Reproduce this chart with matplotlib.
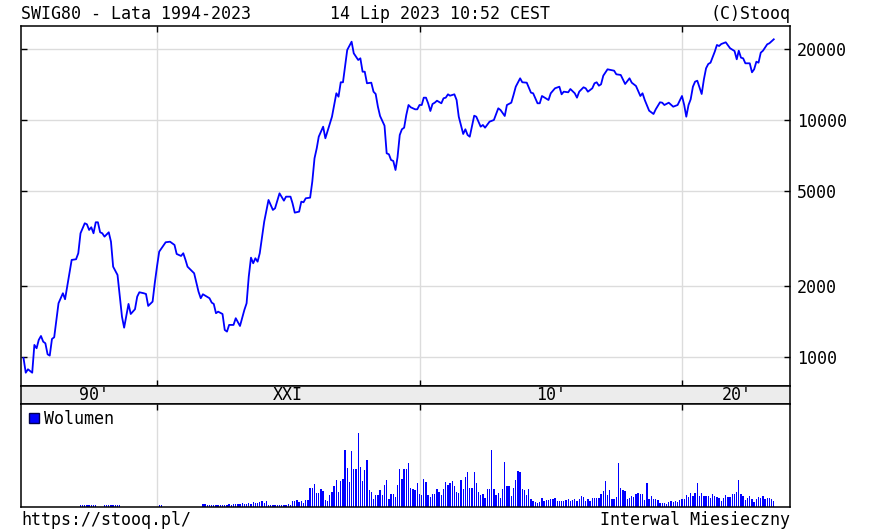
import numpy as np
import pandas as pd
import matplotlib
matplotlib.use('Agg')
import matplotlib.pyplot as plt
from matplotlib.patches import Rectangle
from matplotlib.ticker import NullLocator


plt.rcParams['font.family'] = 'DejaVu Sans Mono'
plt.rcParams['font.size'] = 12

W = 889
H = 532
BLUE = '#0000ff'
GRID = '#dcdcdc'

# sWIG80, monthly close
price_months = [
    '1994-12', '1995-01', '1995-02', '1995-04', '1995-05', '1995-06', '1995-07', '1995-08',
    '1995-09', '1995-10', '1995-11', '1995-12', '1996-01', '1996-02', '1996-04', '1996-06',
    '1996-07', '1996-10', '1996-12', '1997-01', '1997-02', '1997-04', '1997-05', '1997-06',
    '1997-07', '1997-08', '1997-09', '1997-10', '1997-11', '1997-12', '1998-01', '1998-03',
    '1998-04', '1998-05', '1998-07', '1998-09', '1998-10', '1998-12', '1999-01', '1999-03',
    '1999-04', '1999-05', '1999-07', '1999-08', '1999-09', '1999-11', '1999-12', '2000-01',
    '2000-02', '2000-05', '2000-07', '2000-09', '2000-10', '2000-12', '2001-01', '2001-02',
    '2001-03', '2001-06', '2001-08', '2001-09', '2001-10', '2002-01', '2002-02', '2002-03',
    '2002-04', '2002-05', '2002-07', '2002-08', '2002-09', '2002-10', '2002-12', '2003-01',
    '2003-03', '2003-05', '2003-06', '2003-07', '2003-08', '2003-09', '2003-10', '2003-11',
    '2003-12', '2004-02', '2004-04', '2004-06', '2004-07', '2004-09', '2004-11', '2004-12',
    '2005-02', '2005-03', '2005-04', '2005-06', '2005-07', '2005-08', '2005-09', '2005-11',
    '2005-12', '2006-01', '2006-02', '2006-03', '2006-05', '2006-06', '2006-09', '2006-11',
    '2006-12', '2007-01', '2007-02', '2007-04', '2007-06', '2007-07', '2007-09', '2007-10',
    '2007-11', '2007-12', '2008-01', '2008-03', '2008-04', '2008-05', '2008-06', '2008-07',
    '2008-09', '2008-10', '2008-11', '2008-12', '2009-01', '2009-02', '2009-03', '2009-04',
    '2009-05', '2009-06', '2009-07', '2009-08', '2009-09', '2009-11', '2009-12', '2010-01',
    '2010-02', '2010-03', '2010-04', '2010-05', '2010-06', '2010-07', '2010-08', '2010-09',
    '2010-11', '2010-12', '2011-01', '2011-02', '2011-03', '2011-05', '2011-06', '2011-07',
    '2011-09', '2011-10', '2011-11', '2011-12', '2012-02', '2012-03', '2012-05', '2012-06',
    '2012-07', '2012-09', '2012-11', '2013-01', '2013-02', '2013-04', '2013-05', '2013-07',
    '2013-08', '2013-09', '2013-11', '2013-12', '2014-02', '2014-04', '2014-05', '2014-07',
    '2014-08', '2014-09', '2014-12', '2015-01', '2015-03', '2015-05', '2015-06', '2015-07',
    '2015-09', '2015-10', '2015-12', '2016-01', '2016-02', '2016-04', '2016-05', '2016-06',
    '2016-08', '2016-09', '2016-10', '2016-11', '2016-12', '2017-01', '2017-03', '2017-06',
    '2017-07', '2017-09', '2017-11', '2018-01', '2018-02', '2018-04', '2018-06', '2018-07',
    '2018-08', '2018-10', '2018-12', '2019-01', '2019-03', '2019-04', '2019-05', '2019-07',
    '2019-09', '2019-11', '2020-01', '2020-02', '2020-03', '2020-04', '2020-05', '2020-06',
    '2020-07', '2020-08', '2020-10', '2020-11', '2020-12', '2021-01', '2021-02', '2021-04',
    '2021-05', '2021-06', '2021-07', '2021-09', '2021-11', '2022-01', '2022-02', '2022-03',
    '2022-04', '2022-05', '2022-06', '2022-08', '2022-09', '2022-10', '2022-11', '2022-12',
    '2023-01', '2023-02', '2023-04', '2023-05', '2023-07',
]
price_values = [
    990, 858, 887, 858, 1124, 1088, 1180, 1226,
    1160, 1142, 1026, 1013, 1191, 1211, 1685, 1857,
    1752, 2567, 2584, 2739, 3326, 3665, 3630, 3435,
    3526, 3326, 3701, 3701, 3358, 3326, 3219, 3358,
    3064, 2404, 2218, 1479, 1329, 1674, 1518, 1590,
    1797, 1875, 1857, 1844, 1642, 1712, 2046, 2404,
    2782, 3048, 3064, 2969, 2720, 2668, 2739, 2567,
    2404, 2255, 1886, 1769, 1839, 1769, 1695, 1674,
    1529, 1553, 1518, 1300, 1279, 1365, 1365, 1457,
    1351, 1579, 1685, 2182, 2624, 2485, 2609, 2524,
    2739, 3723, 4597, 4172, 4241, 4904, 4566, 4747,
    4747, 4452, 4064, 4104, 4522, 4495, 4673, 4701,
    5491, 6893, 7598, 8502, 9370, 8372, 10325, 12964,
    12540, 14425, 14425, 19744, 21400, 19117, 17915, 18210,
    15986, 15986, 14286, 14370, 13165, 12874, 11378, 10396,
    9460, 7235, 7165, 6781, 6714, 6152, 6960, 8645,
    9137, 9279, 10498, 11567, 11312, 11093, 11093, 11567,
    11567, 12421, 12421, 11762, 10914, 11682, 11830, 12060,
    11762, 12349, 12421, 12834, 12661, 12834, 12144, 10325,
    8729, 9137, 8645, 8502, 10425, 10325, 9370, 9526,
    9279, 9836, 10000, 11204, 11020, 10396, 11567, 11830,
    12749, 13817, 14993, 14425, 14370, 13038, 12964, 11762,
    11762, 12626, 12144, 12964, 13606, 13817, 12834, 13165,
    13089, 13511, 12964, 12421, 13165, 13740, 13606, 13165,
    13606, 14286, 14425, 13954, 14146, 15379, 16364, 16144,
    15590, 15488, 14187, 14993, 14370, 13915, 12626, 12964,
    12144, 10945, 10600, 11093, 11876, 11830, 11567, 11830,
    11378, 11567, 12626, 11567, 10325, 11567, 12227, 13817,
    14508, 14648, 12874, 14849, 16523, 17231, 17450, 19420,
    20726, 20522, 20928, 21275, 20071, 19550, 18035, 19608,
    18319, 18210, 17347, 17347, 15894, 16364, 17620, 17450,
    19231, 19608, 20865, 21070, 21900,
]

# volume (relative units, no scale shown on the chart)
vol_early_months = [
    '1997-02', '1997-03', '1997-04', '1997-05', '1997-06', '1997-07', '1997-08', '1997-09',
    '1998-01', '1998-02', '1998-03', '1998-04', '1998-05', '1998-06', '1998-07', '1998-08',
    '2000-02', '2000-03',
]
vol_early = [2] * 18

vol_start = '2001-10'
vol = [
    3, 3, 2.5, 2.5, 2, 2.5, 2.5, 2.5, 2, 2.5, 2.5, 2.5, 3, 2.5,
    3.3, 3, 3.3, 3.3, 4, 3, 3.3, 4, 3, 5,
    4.3, 4, 5, 6, 4.3, 5.7,
    2, 2.3, 1.7, 2, 2, 2.3, 1.7, 2, 2.3, 3, 2,
    5.7, 6, 6.7, 5, 5.7, 4.3, 6.7, 6.7,
    19.3, 19.3, 22.7, 14, 14, 17.7, 15.7, 6.7, 6, 11.7,
    15, 20.7, 26.7, 15, 25.7, 28.3, 56.7, 39, 25, 55.7,
    37.7, 37.7, 74, 40, 25.7, 36.7, 46.7, 16.7, 15, 7.7,
    12.3, 11.7, 16.7, 11.7, 22.3, 26.7, 7.7, 13.3, 13.3, 10,
    22.3, 37.7, 28.3, 37.7, 37.7, 44, 19, 18.3, 16.7, 24,
    13.3, 11.7, 28.3, 25, 11.7, 10, 13.3, 13.3, 17.7, 15,
    11.7, 17.7, 25, 22.3, 24, 25.7, 21, 15, 14, 26.7,
    17.7, 30, 35, 19.3, 19.3, 35, 24, 15, 12.3, 13.3,
    9, 17.7, 17.7, 56.7, 17.7, 12.3, 14, 9, 17.7, 45,
    20.7, 20.7, 10.7, 19, 26.7, 35.7, 35, 18.3, 16.7, 11.7,
    17.7, 8, 6, 5, 4.3, 5, 9, 6, 6.7, 7,
    7.7, 8.3, 9, 6, 6, 6, 6, 6.7, 7.7, 6,
    6.7, 7.7, 6, 7.7, 10.7, 10, 6, 7.7, 5.7, 9,
    9, 9, 9, 13.3, 15.7, 25.7, 11.7, 16.7, 7.7, 7.7,
    10, 44, 19.3, 16.7, 15.7, 7.7, 9, 10.7, 10, 13.3,
    14, 13.3, 12.7, 6.7, 24, 7.7, 10.7, 8.3, 8.3, 6.7,
    4.3, 4.3, 4.3, 3.3, 5, 6, 5.5, 6, 5, 6.7,
    7.7, 7.7, 11.7, 10, 14, 10.7, 14, 24, 10.7, 14,
    10.7, 10.7, 10.7, 9, 13.3, 10.7, 10, 9, 6, 9,
    11.7, 10, 10, 13.3, 13.3, 15, 26.7, 13.3, 10.7, 6.7,
    9, 10.7, 7.7, 5, 7.7, 10, 9, 10.7, 7.7, 9,
    9, 7.7, 6,
]

decades = ['2000-01', '2010-01', '2020-01']
eras = ["90'", 'XXI', "10'", "20'"]
era_centers = ['1997-08', '2005-01', '2015-01', '2022-02']
yticks = [1000, 2000, 5000, 10000, 20000]

price_dates = pd.to_datetime(price_months)
vol_dates = pd.date_range(vol_start, periods=len(vol), freq='MS')
vol_early_dates = pd.to_datetime(vol_early_months)
decade_dates = pd.to_datetime(decades)
x0 = pd.Timestamp('1994-10-27')
x1 = pd.Timestamp('2024-02-12')

fig = plt.figure(figsize=(W / 100, H / 100), dpi=100)
ax = fig.add_axes([21 / W, 1 - 386 / H, 769 / W, 360 / H])
band = fig.add_axes([21 / W, 1 - 404 / H, 769 / W, 18 / H])
axv = fig.add_axes([21 / W, 1 - 507 / H, 769 / W, 103 / H])

for a in (ax, band, axv):
    a.set_xlim(x0, x1)
    for s in a.spines.values():
        s.set_linewidth(1.1)

# price panel
ax.plot(price_dates, price_values, color=BLUE, lw=1.3, zorder=3)
ax.set_yscale('log')
ax.set_ylim(754, 24925)
ax.set_yticks(yticks)
ax.set_yticklabels([str(t) for t in yticks])
ax.yaxis.set_minor_locator(NullLocator())
ax.set_xticks(decade_dates)
ax.xaxis.set_minor_locator(NullLocator())
ax.grid(True, color=GRID, lw=1.0)
ax.set_axisbelow(True)
ax.tick_params(axis='y', left=True, right=True, labelleft=False, labelright=True,
               direction='in', length=4, width=1, pad=5)
ax.tick_params(axis='x', top=True, bottom=True, labelbottom=False,
               direction='in', length=4, width=1)

# era band
band.set_facecolor('#ececec')
band.set_ylim(0, 1)
band.set_xticks([])
band.set_yticks([])
for lab, c in zip(eras, era_centers):
    band.text(pd.Timestamp(c), 0.22, lab, ha='center', va='baseline')

# volume panel
axv.bar(vol_early_dates, vol_early, width=19, color=BLUE, lw=0, antialiased=False)
axv.bar(vol_dates, vol, width=19, color=BLUE, lw=0, antialiased=False)
axv.set_ylim(0, 103)
axv.set_yticks([])
axv.set_xticks(decade_dates)
axv.xaxis.set_minor_locator(NullLocator())
axv.grid(True, axis='x', color=GRID, lw=1.0)
axv.set_axisbelow(True)
axv.tick_params(axis='x', top=True, bottom=False, labelbottom=False,
                direction='in', length=4, width=1)
axv.add_patch(Rectangle((0.0108, 0.8126), 0.013, 0.0971, transform=axv.transAxes,
                        facecolor=BLUE, edgecolor='#000050', lw=1))
axv.text(0.0299, 0.801, 'Wolumen', transform=axv.transAxes, ha='left', va='baseline')

# header / footer
fig.text(21 / W, 1 - 19 / H, 'SWIG80 - Lata 1994-2023', ha='left', va='baseline')
fig.text(330 / W, 1 - 19 / H, '14 Lip 2023 10:52 CEST', ha='left', va='baseline')
fig.text(790 / W, 1 - 19 / H, '(C)Stooq', ha='right', va='baseline')
fig.text(21 / W, 1 - 525 / H, 'https://stooq.pl/', ha='left', va='baseline')
fig.text(790 / W, 1 - 525 / H, 'Interwal Miesieczny', ha='right', va='baseline')

fig.savefig('out.png', dpi=100)
